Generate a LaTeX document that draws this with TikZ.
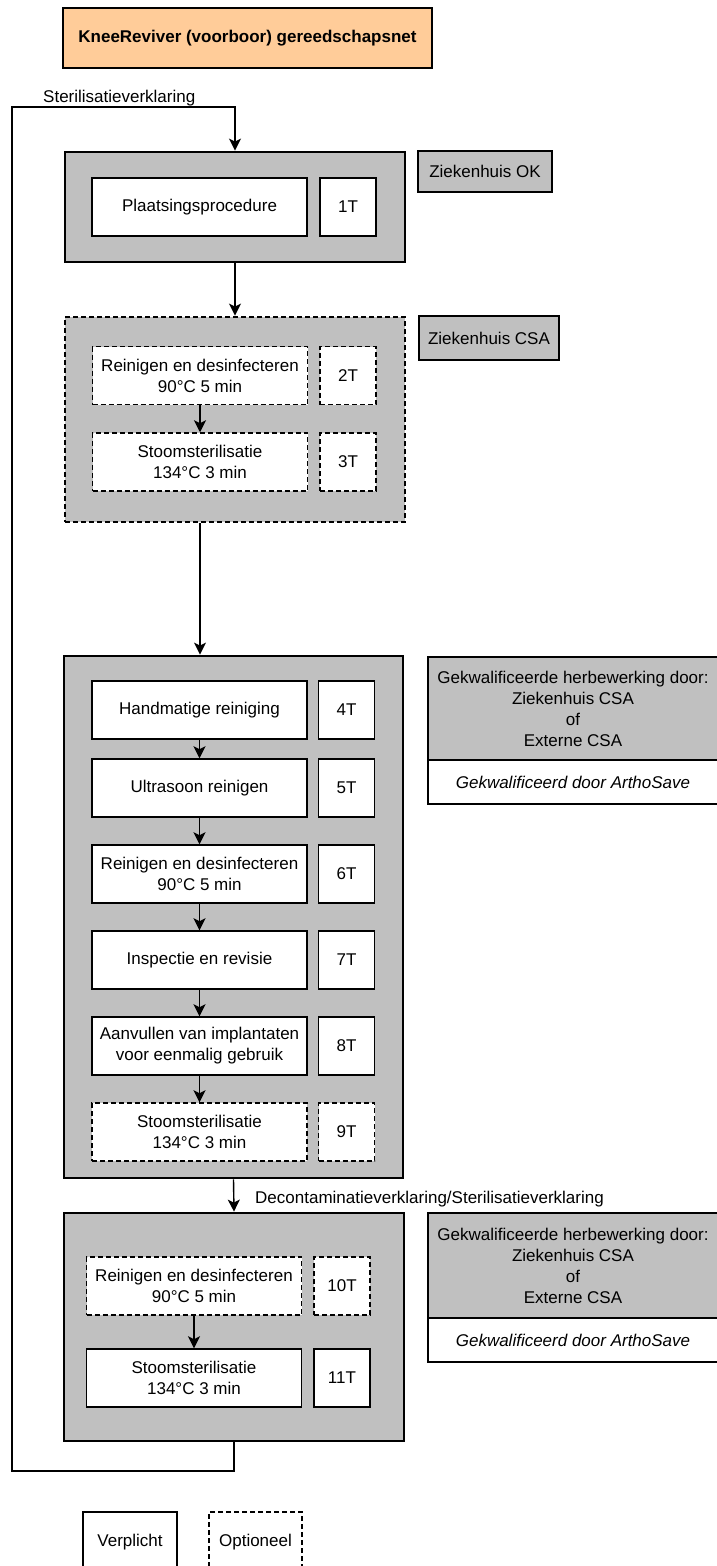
\documentclass[tikz,border=0pt]{standalone}
\usepackage{fontspec}
\setmainfont{Liberation Sans}
\usetikzlibrary{arrows.meta}

\definecolor{boxgrey}{RGB}{192,192,192}
\definecolor{titlepeach}{RGB}{255,204,153}

\begin{document}
\begin{tikzpicture}[x=1pt,y=-1pt,
  every node/.style={font=\fontsize{17}{21}\selectfont, inner sep=0pt, align=center},
  stage/.style={draw, line width=2.8pt, fill=boxgrey},
  stepbox/.style={draw, line width=1.5pt, fill=white, minimum width=215pt, minimum height=58pt},
  tbox/.style={draw, line width=1.5pt, fill=white, minimum width=56pt, minimum height=58pt},
  optional/.style={dash pattern=on 5pt off 3pt},
  sitebox/.style={draw, line width=2.5pt, fill=boxgrey},
  flow/.style={line width=1.4pt, -{Stealth[length=12pt,width=12pt,inset=3pt]}}
]
\useasboundingbox (0,0) rectangle (716,1566);

%Shape: Title
\node [draw, line width=2.5pt, fill=titlepeach, minimum width=369pt, minimum height=60pt] (title) at (247.5,38) {\bfseries KneeReviver (voorboor) gereedschapsnet};

%Shape: Rectangle -- Ziekenhuis OK
\node [stage, minimum width=340pt, minimum height=110pt] (ok) at (235,207) {};
\node [stepbox] (plaats) at (199.5,207) {Plaatsingsprocedure};
\node [tbox] (t1) at (348,207) {1T};

%Shape: Rectangle -- Ziekenhuis CSA
\node [stage, optional, minimum width=340pt, minimum height=205pt] (csa) at (235,419.5) {};
\node [stepbox, optional] (reinig2) at (200,375.5) {Reinigen en desinfecteren\\90°C 5 min};
\node [tbox, optional] (t2) at (348,375.5) {2T};
\node [stepbox, optional] (stoom3) at (200,462) {Stoomsterilisatie\\134°C 3 min};
\node [tbox, optional] (t3) at (348,462) {3T};

%Shape: Rectangle -- herbewerking
\node [stage, minimum width=339pt, minimum height=522pt] (herb) at (233.5,917) {};
\node [stepbox] (hand4) at (199.5,710) {Handmatige reiniging};
\node [tbox] (t4) at (346.5,710) {4T};
\node [stepbox] (ultra5) at (199.5,788) {Ultrasoon reinigen};
\node [tbox] (t5) at (346.5,788) {5T};
\node [stepbox] (reinig6) at (199.5,874) {Reinigen en desinfecteren\\90°C 5 min};
\node [tbox] (t6) at (346.5,874) {6T};
\node [stepbox] (insp7) at (199.5,960) {Inspectie en revisie};
\node [tbox] (t7) at (346.5,960) {7T};
\node [stepbox] (aanv8) at (199.5,1046) {Aanvullen van implantaten\\voor eenmalig gebruik};
\node [tbox] (t8) at (346.5,1046) {8T};
\node [stepbox, optional] (stoom9) at (199.5,1132) {Stoomsterilisatie\\134°C 3 min};
\node [tbox, optional] (t9) at (346.5,1132) {9T};

%Shape: Rectangle -- terugname
\node [stage, minimum width=340pt, minimum height=228pt] (terug) at (234,1327) {};
\node [stepbox, optional] (reinig10) at (194,1286) {Reinigen en desinfecteren\\90°C 5 min};
\node [tbox, optional] (t10) at (342,1286) {10T};
\node [stepbox] (stoom11) at (194,1378) {Stoomsterilisatie\\134°C 3 min};
\node [tbox] (t11) at (342,1378) {11T};

% Text Node -- locaties
\node [sitebox, minimum width=134pt, minimum height=41pt] (lok) at (485,171.5) {Ziekenhuis OK};
\node [sitebox, minimum width=140pt, minimum height=44pt] (lcsa) at (489,338) {Ziekenhuis CSA};

\node [sitebox, minimum width=290pt, minimum height=103pt] (gekA) at (573,708.5) {Gekwalificeerde herbewerking door:\\Ziekenhuis CSA\\of\\Externe CSA};
\node [draw, line width=2.5pt, fill=white, minimum width=290pt, minimum height=44pt] (gekAs) at (573,782) {\itshape Gekwalificeerd door ArthoSave};
\node [sitebox, minimum width=290pt, minimum height=105pt] (gekB) at (573,1265.5) {Gekwalificeerde herbewerking door:\\Ziekenhuis CSA\\of\\Externe CSA};
\node [draw, line width=2.5pt, fill=white, minimum width=290pt, minimum height=44pt] (gekBs) at (573,1340) {\itshape Gekwalificeerd door ArthoSave};

% Legenda
\node [draw, line width=1.5pt, minimum width=94pt, minimum height=60pt] (verpl) at (130,1542) {Verplicht};
\node [draw, line width=1.5pt, optional, minimum width=93pt, minimum height=60pt] (optio) at (255.5,1542) {Optioneel};

% Connectors
\coordinate (lusonder) at (12,1471);
\coordinate (lusboven) at (12,107);
\draw [flow] (terug.south) |- (lusonder) -- (lusboven) -| (ok.north);
\node [anchor=base west] (sterlabel) at (43,102) {Sterilisatieverklaring};

\draw [flow] (ok.south) -- (csa.north);
\draw [flow] (reinig2) -- (stoom3);
\draw [flow] (stoom3 |- csa.south) -- (stoom3 |- herb.north);

\draw [flow] (hand4) -- (ultra5);
\draw [flow] (ultra5) -- (reinig6);
\draw [flow] (reinig6) -- (insp7);
\draw [flow] (insp7) -- (aanv8);
\draw [flow] (aanv8) -- (stoom9);

\draw [flow] (herb.south) -- (terug.north);
\node [anchor=base west] (decolabel) at (255,1203) {Decontaminatieverklaring/Sterilisatieverklaring};

\draw [flow] (reinig10) -- (stoom11);
\end{tikzpicture}
\end{document}
